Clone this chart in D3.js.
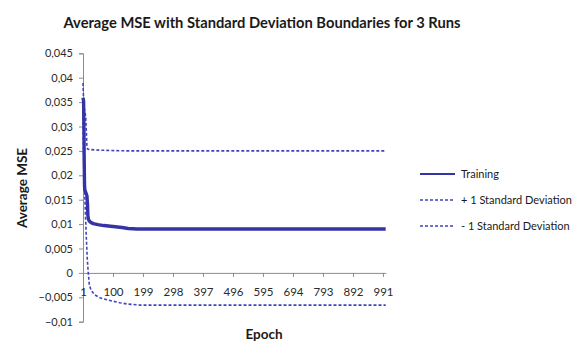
<!DOCTYPE html>
<html>
<head>
<meta charset="utf-8">
<script src="https://cdn.jsdelivr.net/npm/d3@7"></script>
<style>
  html, body { margin: 0; padding: 0; background: #fff; }
  svg { display: block; font-family: Lato, "Open Sans", sans-serif; }
</style>
</head>
<body>
<svg id="chart" width="579" height="344"></svg>
<script>
// Average MSE over 3 runs, with +/- 1 standard deviation envelopes (epoch, value)
const trainingEpochs = [1, 3, 4, 5, 6, 7, 10, 14, 16, 17, 19, 22, 28, 35, 50, 70, 100, 130, 150, 180, 200, 300, 400, 500, 600, 700, 800, 900, 1000];
const trainingMSE    = [0.0359, 0.0352, 0.0300, 0.0230, 0.0180, 0.0170, 0.0165, 0.0158, 0.0140, 0.0118, 0.0110, 0.0106, 0.0103, 0.0101, 0.0099, 0.0097, 0.0095, 0.0093, 0.0091, 0.0090, 0.0090, 0.0090, 0.0090, 0.0090, 0.0090, 0.0090, 0.0090, 0.0090, 0.0090];

const plusEpochs = [1, 3, 6, 10, 12, 14, 16, 20, 40, 80, 150, 200, 300, 500, 700, 1000];
const plusSD     = [0.0389, 0.0352, 0.0335, 0.0320, 0.0290, 0.0260, 0.0254, 0.0253, 0.0252, 0.0251, 0.0250, 0.0250, 0.0250, 0.0250, 0.0250, 0.0250];

const minusEpochs = [1, 4, 7, 9, 12, 15, 18, 22, 28, 40, 57, 80, 100, 122, 150, 190, 250, 400, 600, 800, 1000];
const minusSD     = [0.0330, 0.0200, 0.0160, 0.0120, 0.0072, 0.0030, 0.0003, -0.0025, -0.0036, -0.0045, -0.0051, -0.0055, -0.0058, -0.0061, -0.0064, -0.0066, -0.0066, -0.0066, -0.0066, -0.0066, -0.0066];

const yTicks = [-0.01, -0.005, 0, 0.005, 0.01, 0.015, 0.02, 0.025, 0.03, 0.035, 0.04, 0.045];
const xTicks = [1, 100, 199, 298, 397, 496, 595, 694, 793, 892, 991];

const seriesNames = ["Training", "+ 1 Standard Deviation", "- 1 Standard Deviation"];
const titleText = "Average MSE with Standard Deviation Boundaries  for 3 Runs";
const xLabel = "Epoch";
const yLabel = "Average MSE";

const svg = d3.select("#chart");
const lineColor = "#3434a6";
const dashColor = "#4242be";
const axisColor = "#8c8c8c";

const x = d3.scaleLinear().domain([1, 1000]).range([83, 385.7]);
const y = d3.scaleLinear().domain([-0.01, 0.045]).range([321.7, 53.3]);

const fmt = v => (v === 0 ? "0" : d3.format("")(+v.toFixed(3)).replace(".", ","));

// title
svg.append("text")
  .attr("x", 262).attr("y", 28)
  .attr("text-anchor", "middle")
  .attr("font-size", 15.5).attr("font-weight", 700).attr("fill", "#1a1a1a")
  .attr("textLength", 397).attr("lengthAdjust", "spacingAndGlyphs")
  .text(titleText);

// y axis
const yAxis = d3.axisLeft(y).tickValues(yTicks).tickSize(4).tickPadding(6).tickFormat(fmt);
const gy = svg.append("g").attr("transform", `translate(${x(1)},0)`).call(yAxis);
gy.select(".domain").attr("stroke", axisColor);
gy.selectAll(".tick line").attr("stroke", axisColor);
gy.selectAll(".tick text").attr("font-size", 11).attr("fill", "#2a2a2a").attr("font-family", "Lato, sans-serif");

// x axis at zero
const xAxis = d3.axisBottom(x).tickValues(xTicks).tickSize(4).tickSizeOuter(0).tickPadding(11).tickFormat(d3.format("d"));
const gx = svg.append("g").attr("transform", `translate(0,${y(0)})`).call(xAxis);
gx.select(".domain").attr("stroke", axisColor);
gx.selectAll(".tick line").attr("stroke", axisColor);
gx.selectAll(".tick text").attr("font-size", 11.5).attr("fill", "#2a2a2a").attr("font-family", "Lato, sans-serif");

// axis titles
svg.append("text")
  .attr("transform", "translate(27,188) rotate(-90)")
  .attr("text-anchor", "middle")
  .attr("font-size", 13.5).attr("font-weight", 700).attr("fill", "#1a1a1a")
  .text(yLabel);
svg.append("text")
  .attr("x", 264).attr("y", 339)
  .attr("text-anchor", "middle")
  .attr("font-size", 13.5).attr("font-weight", 700).attr("fill", "#1a1a1a")
  .text(xLabel);

// series
const line = d3.line().x(d => x(d[0])).y(d => y(d[1]));
const zip = (a, b) => a.map((e, i) => [e, b[i]]);

svg.append("path").datum(zip(plusEpochs, plusSD))
  .attr("d", line).attr("fill", "none").attr("stroke", dashColor)
  .attr("stroke-width", 1.6).attr("stroke-dasharray", "3,2");
svg.append("path").datum(zip(minusEpochs, minusSD))
  .attr("d", line).attr("fill", "none").attr("stroke", dashColor)
  .attr("stroke-width", 1.6).attr("stroke-dasharray", "3,2");
svg.append("path").datum(zip(trainingEpochs, trainingMSE))
  .attr("d", line).attr("fill", "none").attr("stroke", lineColor)
  .attr("stroke-width", 3.4).attr("stroke-linejoin", "round");

// legend
const legend = svg.append("g");
const rows = [
  { name: seriesNames[0], dash: null, color: lineColor, w: 2 },
  { name: seriesNames[1], dash: "3,2", color: dashColor, w: 1.5 },
  { name: seriesNames[2], dash: "3,2", color: dashColor, w: 1.5 }
];
rows.forEach((r, i) => {
  const yy = 174 + i * 26;
  legend.append("line")
    .attr("x1", 420).attr("x2", 455).attr("y1", yy).attr("y2", yy)
    .attr("stroke", r.color).attr("stroke-width", r.w)
    .attr("stroke-dasharray", r.dash);
  legend.append("text")
    .attr("x", 461).attr("y", yy + 4)
    .attr("font-size", 11).attr("fill", "#1a1a1a")
    .text(r.name);
});
</script>
</body>
</html>
